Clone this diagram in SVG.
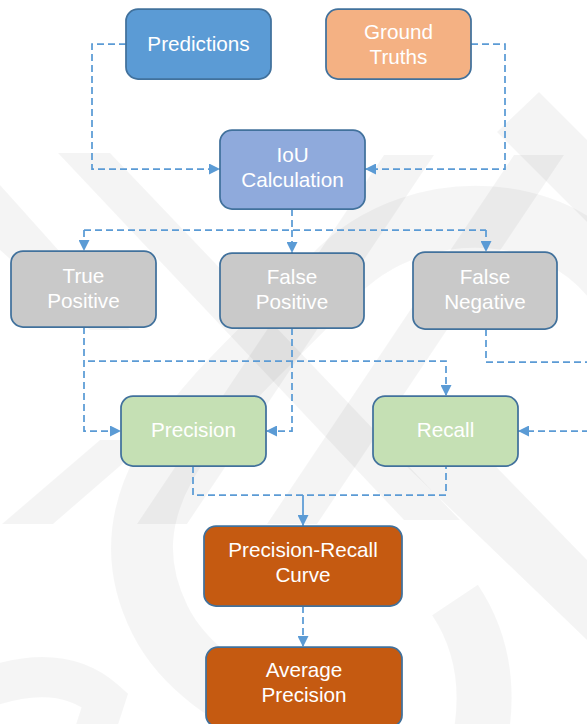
<svg xmlns="http://www.w3.org/2000/svg" width="587" height="724" viewBox="0 0 587 724">
  <defs>
    <style>
      .box { stroke: #41719C; stroke-width: 1.75; }
      .lbl { font-family: "Liberation Sans", Arial, sans-serif; font-size: 20.7px; fill: #ffffff; text-anchor: middle; }
      .dash { fill: none; stroke: #5B9BD5; stroke-width: 1.75; stroke-dasharray: 7 4; }
      .solid { fill: none; stroke: #5B9BD5; stroke-width: 1.75; }
      .wm { fill: #000000; fill-opacity: 0.045; }
      .wms { fill: none; stroke: #000000; stroke-opacity: 0.04; }
    </style>
    <marker id="arrow" viewBox="0 0 11 11" refX="11" refY="5.5" markerWidth="11" markerHeight="11" markerUnits="userSpaceOnUse" orient="auto">
      <path d="M0,0 L11,5.5 L0,11 Z" fill="#5B9BD5"/>
    </marker>
  </defs>

  <rect width="587" height="724" fill="#ffffff"/>

  <!-- faint background logo -->
  <g id="watermark">
    <polygon class="wm" points="539,92 587,140 587,222 497,132"/>
    <polygon class="wm" points="514,155 564,155 317,524 267,524"/>
    <polygon class="wm" points="384,155 434,155 187,524 137,524"/>
    <polygon class="wm" points="100,440 150,440 53,524 2,524"/>
    <polygon class="wm" points="58,153 110,153 460,520 404,520"/>
    <polygon class="wm" points="0,185 0,250 90,330 130,330"/>
    <polygon class="wm" points="404,464 470,440 587,560 587,640"/>
    <path class="wms" stroke-width="62" d="M 640 330 C 600 200, 420 180, 330 280 C 240 380, 90 480, 160 620 C 200 700, 300 720, 340 760"/>
    <path class="wms" stroke-width="55" d="M 455 600 Q 495 660 480 740"/>
    <path class="wms" stroke-width="40" d="M -20 690 Q 60 660 105 700 L 92 740"/>
  </g>

  <!-- connectors -->
  <g id="connectors">
    <path class="dash" d="M126,44 H92 V169 H220" marker-end="url(#arrow)"/>
    <path class="dash" d="M471,44 H505 V169 H365" marker-end="url(#arrow)"/>
    <path class="dash" d="M292,209 V230"/>
    <path class="dash" d="M84,230 H486"/>
    <path class="dash" d="M84,230 V251" marker-end="url(#arrow)"/>
    <path class="dash" d="M292,230 V253" marker-end="url(#arrow)"/>
    <path class="dash" d="M486,230 V252" marker-end="url(#arrow)"/>
    <path class="dash" d="M84,327 V431 H121" marker-end="url(#arrow)"/>
    <path class="dash" d="M88,361 H446 V396" marker-end="url(#arrow)"/>
    <path class="dash" d="M292,328 V431 H266" marker-end="url(#arrow)"/>
    <path class="dash" d="M486,329 V362 H600"/>
    <path class="dash" d="M600,431 H518" marker-end="url(#arrow)"/>
    <path class="dash" d="M193,466 V495 H446 V466"/>
    <path class="solid" d="M303,495 V526" marker-end="url(#arrow)"/>
    <path class="dash" d="M303,606 V647" marker-end="url(#arrow)"/>
  </g>

  <g id="predictions">
    <rect class="box" x="126" y="9" width="145" height="70" rx="12" fill="#5B9BD5"/>
    <text class="lbl" x="198.5" y="51">Predictions</text>
  </g>
  <g id="ground-truths">
    <rect class="box" x="326" y="9" width="145" height="70" rx="12" fill="#F4B183"/>
    <text class="lbl" x="398.5" y="39">Ground</text>
    <text class="lbl" x="398.5" y="64">Truths</text>
  </g>
  <g id="iou">
    <rect class="box" x="220" y="130" width="145" height="79" rx="12" fill="#8FAADC"/>
    <text class="lbl" x="292.5" y="162">IoU</text>
    <text class="lbl" x="292.5" y="186.5">Calculation</text>
  </g>
  <g id="true-positive">
    <rect class="box" x="11" y="251" width="145" height="76" rx="12" fill="#C9C9C9"/>
    <text class="lbl" x="83.5" y="283">True</text>
    <text class="lbl" x="83.5" y="308">Positive</text>
  </g>
  <g id="false-positive">
    <rect class="box" x="220" y="253" width="144" height="75" rx="12" fill="#C9C9C9"/>
    <text class="lbl" x="292" y="284">False</text>
    <text class="lbl" x="292" y="309">Positive</text>
  </g>
  <g id="false-negative">
    <rect class="box" x="413" y="252" width="144" height="77" rx="12" fill="#C9C9C9"/>
    <text class="lbl" x="485" y="284">False</text>
    <text class="lbl" x="485" y="309">Negative</text>
  </g>
  <g id="precision">
    <rect class="box" x="121" y="396" width="145" height="70" rx="12" fill="#C5E0B4"/>
    <text class="lbl" x="193.5" y="437">Precision</text>
  </g>
  <g id="recall">
    <rect class="box" x="373" y="396" width="145" height="70" rx="12" fill="#C5E0B4"/>
    <text class="lbl" x="445.5" y="437">Recall</text>
  </g>
  <g id="pr-curve">
    <rect class="box" x="204" y="526" width="198" height="80" rx="12" fill="#C55A11"/>
    <text class="lbl" x="303" y="557">Precision-Recall</text>
    <text class="lbl" x="303" y="582">Curve</text>
  </g>
  <g id="average-precision">
    <rect class="box" x="206" y="647" width="196" height="80" rx="12" fill="#C55A11"/>
    <text class="lbl" x="304" y="677">Average</text>
    <text class="lbl" x="304" y="702">Precision</text>
  </g>
</svg>
